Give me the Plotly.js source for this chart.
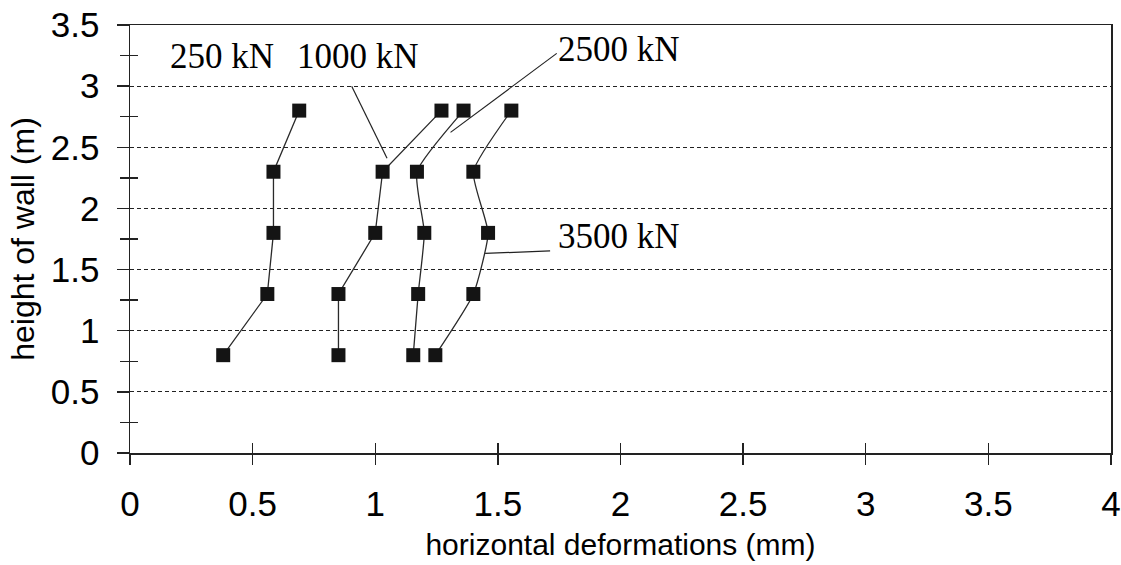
<!DOCTYPE html>
<html>
<head>
<meta charset="utf-8">
<script src="https://cdn.plot.ly/plotly-3.0.1.min.js"></script>
<style>html,body{margin:0;padding:0;background:#fff;}#chart{width:1121px;height:565px;}</style>
</head>
<body>
<div id="chart"></div>
<script>
// Heights of measurement points (m)
const heights = [0.8, 1.3, 1.8, 2.3, 2.8];
// Horizontal deformations (mm) for each load level
const load250 = [0.38, 0.56, 0.585, 0.585, 0.69];
const load1000 = [0.85, 0.85, 1.0, 1.03, 1.27];
const load2500 = [1.155, 1.175, 1.20, 1.17, 1.36];
const load3500 = [1.245, 1.40, 1.46, 1.40, 1.555];
const seriesNames = ["250 kN", "1000 kN", "2500 kN", "3500 kN"];

// Tick labels
const xTicks = [0, 0.5, 1, 1.5, 2, 2.5, 3, 3.5, 4];
const yTicks = [0, 0.5, 1, 1.5, 2, 2.5, 3, 3.5];

// Label placement (data coordinates) and leader lines
const labelX = [0.375, 0.93, 1.995, 1.995];
const labelY = [3.24, 3.24, 3.30, 1.77];
const leaderX0 = [null, 0.904, 1.740, 1.713];
const leaderY0 = [null, 3.0, 3.268, 1.653];
const leaderX1 = [null, 1.048, 1.307, 1.448];
const leaderY1 = [null, 2.41, 2.622, 1.632];

const allSeries = [load250, load1000, load2500, load3500];
const shapesSmooth = [0, 0, 0.5, 0.5];

const traces = allSeries.map((vals, i) => ({
  type: 'scatter',
  mode: 'lines+markers',
  x: vals,
  y: heights,
  name: seriesNames[i],
  line: {color: '#2a2a2a', width: 1.3, shape: shapesSmooth[i] ? 'spline' : 'linear', smoothing: shapesSmooth[i] || 1},
  marker: {symbol: 'square', size: 14, color: '#141414', line: {width: 0}},
  hoverinfo: 'x+y+name',
  cliponaxis: false
}));
// invisible trace on the overlay axes (for crossing ticks)
traces.push({type: 'scatter', x: [0], y: [0], xaxis: 'x2', yaxis: 'y2', mode: 'markers', marker: {opacity: 0}, hoverinfo: 'skip', showlegend: false});

const annotations = seriesNames.map((t, i) => ({
  x: labelX[i], y: labelY[i], xref: 'x', yref: 'y',
  text: t, showarrow: false, xanchor: 'center', yanchor: 'middle',
  font: {family: 'Liberation Serif, Times New Roman, serif', size: 35, color: '#000'}
}));

const shapes = [];
for (let i = 0; i < seriesNames.length; i++) {
  if (leaderX0[i] === null) continue;
  shapes.push({type: 'line', xref: 'x', yref: 'y', x0: leaderX0[i], y0: leaderY0[i], x1: leaderX1[i], y1: leaderY1[i], line: {color: '#222', width: 1.2}});
}

const tickFont = {family: 'Liberation Sans, Arial, sans-serif', size: 35, color: '#000'};
const layout = {
  width: 1121, height: 565,
  margin: {l: 130, r: 10, t: 25, b: 112},
  paper_bgcolor: '#fff', plot_bgcolor: '#fff',
  showlegend: false,
  xaxis: {
    range: [0, 4], tickvals: xTicks, ticktext: xTicks.map(String),
    ticks: 'outside', ticklen: 10, tickwidth: 1.3, tickcolor: '#222',
    showline: true, linecolor: '#222', linewidth: 1.5, mirror: true,
    showgrid: false, zeroline: false,
    tickfont: tickFont, ticklabelstandoff: 9,
    title: {text: 'horizontal deformations (mm)', font: {family: 'Liberation Sans, Arial, sans-serif', size: 30, color: '#000'}, standoff: 12}
  },
  yaxis: {
    range: [0, 3.5], tickvals: yTicks, ticktext: yTicks.map(String),
    ticks: 'outside', ticklen: 12, tickwidth: 1.3, tickcolor: '#222',
    minor: {ticks: 'outside', ticklen: 9, tickwidth: 1.3, tickcolor: '#222', dtick: 0.25, tick0: 0, showgrid: false},
    showline: true, linecolor: '#222', linewidth: 1.5, mirror: true,
    showgrid: true, gridcolor: '#222', gridwidth: 1.1, griddash: '4px,3px',
    zeroline: false,
    tickfont: tickFont, ticklabelstandoff: 10,
    title: {text: 'height of wall (m)', font: {family: 'Liberation Sans, Arial, sans-serif', size: 32, color: '#000'}, standoff: 6}
  },
  xaxis2: {
    overlaying: 'x', anchor: 'y2', range: [0, 4], tickvals: xTicks, showticklabels: false,
    ticks: 'inside', ticklen: 10, tickwidth: 1.3, tickcolor: '#222',
    showline: false, showgrid: false, zeroline: false
  },
  yaxis2: {
    overlaying: 'y', anchor: 'x2', range: [0, 3.5], tick0: 0.25, dtick: 0.5, showticklabels: false,
    ticks: 'inside', ticklen: 8, tickwidth: 1.3, tickcolor: '#222',
    showline: false, showgrid: false, zeroline: false
  },
  annotations: annotations,
  shapes: shapes
};

Plotly.newPlot('chart', traces, layout, {displayModeBar: false, staticPlot: true});
</script>
</body>
</html>
